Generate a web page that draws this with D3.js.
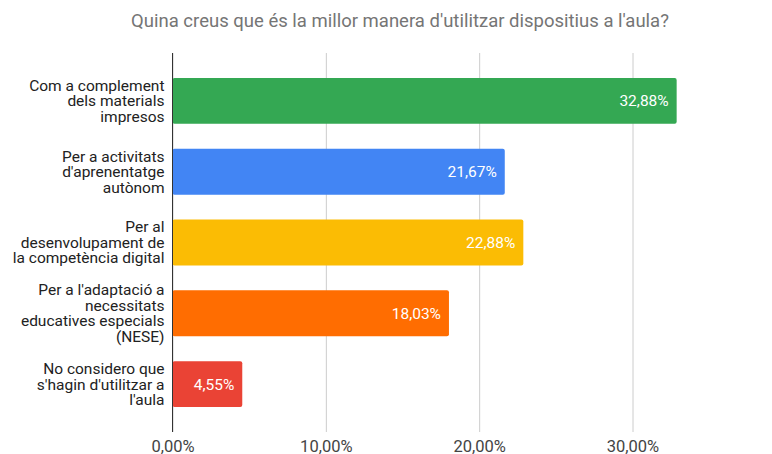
<!doctype html>
<html>
<head>
<meta charset="utf-8">
<style>
  body { margin: 0; background: #fff; font-family: Roboto, sans-serif; }
  svg { display: block; }
  .title { font-size: 18.5px; fill: #757575; }
  .cat { font-size: 15.5px; fill: #222; }
  .value { font-size: 15.5px; fill: #fff; }
  .tick text { font-size: 16.5px; fill: #444; font-family: Roboto, sans-serif; }
  .grid line { stroke: #cccccc; }
  .grid path { stroke-width: 0; }
</style>
<script src="https://d3js.org/d3.v7.min.js"></script>
</head>
<body>
<svg width="772" height="454"></svg>
<script>
const categories = [
  ["Com a complement", "dels materials", "impresos"],
  ["Per a activitats", "d'aprenentatge", "autònom"],
  ["Per al", "desenvolupament de", "la competència digital"],
  ["Per a l'adaptació a", "necessitats", "educatives especials", "(NESE)"],
  ["No considero que", "s'hagin d'utilitzar a", "l'aula"]
];
const values = [32.88, 21.67, 22.88, 18.03, 4.55];
const colors = ["#34a853", "#4285f4", "#fbbc04", "#ff6d01", "#ea4335"];
const xTicks = [0, 10, 20, 30];

const svg = d3.select('svg');
const plotLeft = 172.5, plotRight = 632.5, plotTop = 53, plotBottom = 432;

const x = d3.scaleLinear().domain([0, 30]).range([plotLeft, plotRight]);
const y = d3.scaleBand()
  .domain(d3.range(values.length))
  .range([plotTop, plotBottom])
  .paddingInner(0.352)
  .paddingOuter(0.352);

const fmt = v => v.toFixed(2).replace('.', ',') + '%';

// gridlines
svg.append('g')
  .attr('class', 'grid')
  .attr('transform', `translate(0, ${plotBottom})`)
  .call(d3.axisBottom(x).tickValues(xTicks).tickSize(-(plotBottom - plotTop)).tickFormat(''))
  .selectAll('.tick line').attr('stroke', '#cccccc');

// tick labels
svg.append('g')
  .attr('transform', `translate(0, ${plotBottom})`)
  .call(d3.axisBottom(x).tickValues(xTicks).tickSize(0).tickPadding(8).tickFormat(d => fmt(d)))
  .call(g => g.select('.domain').remove())
  .selectAll('text').attr('dy', '0.71em');

// bars
svg.selectAll('rect.bar')
  .data(values)
  .enter()
  .append('rect')
  .attr('class', 'bar')
  .attr('x', x(0))
  .attr('y', (d, i) => y(i))
  .attr('width', d => x(d) - x(0))
  .attr('height', y.bandwidth())
  .attr('rx', 2)
  .attr('fill', (d, i) => colors[i]);

// value labels
svg.selectAll('text.value')
  .data(values)
  .enter()
  .append('text')
  .attr('class', 'value')
  .attr('x', d => x(d) - 8)
  .attr('y', (d, i) => y(i) + y.bandwidth() / 2)
  .attr('dy', '0.35em')
  .attr('text-anchor', 'end')
  .text(d => fmt(d));

// category labels
const lineH = 15.5;
categories.forEach((lines, i) => {
  const cy = y(i) + y.bandwidth() / 2;
  const t = svg.append('text')
    .attr('class', 'cat')
    .attr('text-anchor', 'end');
  lines.forEach((ln, j) => {
    t.append('tspan')
      .attr('x', plotLeft - 8)
      .attr('y', cy + (j - (lines.length - 1) / 2) * lineH)
      .attr('dy', '0.35em')
      .text(ln);
  });
});

// axis line
svg.append('line')
  .attr('x1', x(0)).attr('x2', x(0))
  .attr('y1', plotTop).attr('y2', plotBottom)
  .attr('stroke', '#333').attr('stroke-width', 1);

svg.append('text')
  .attr('class', 'title')
  .attr('x', 400)
  .attr('y', 27)
  .attr('text-anchor', 'middle')
  .text("Quina creus que és la millor manera d'utilitzar dispositius a l'aula?");
</script>
</body>
</html>
